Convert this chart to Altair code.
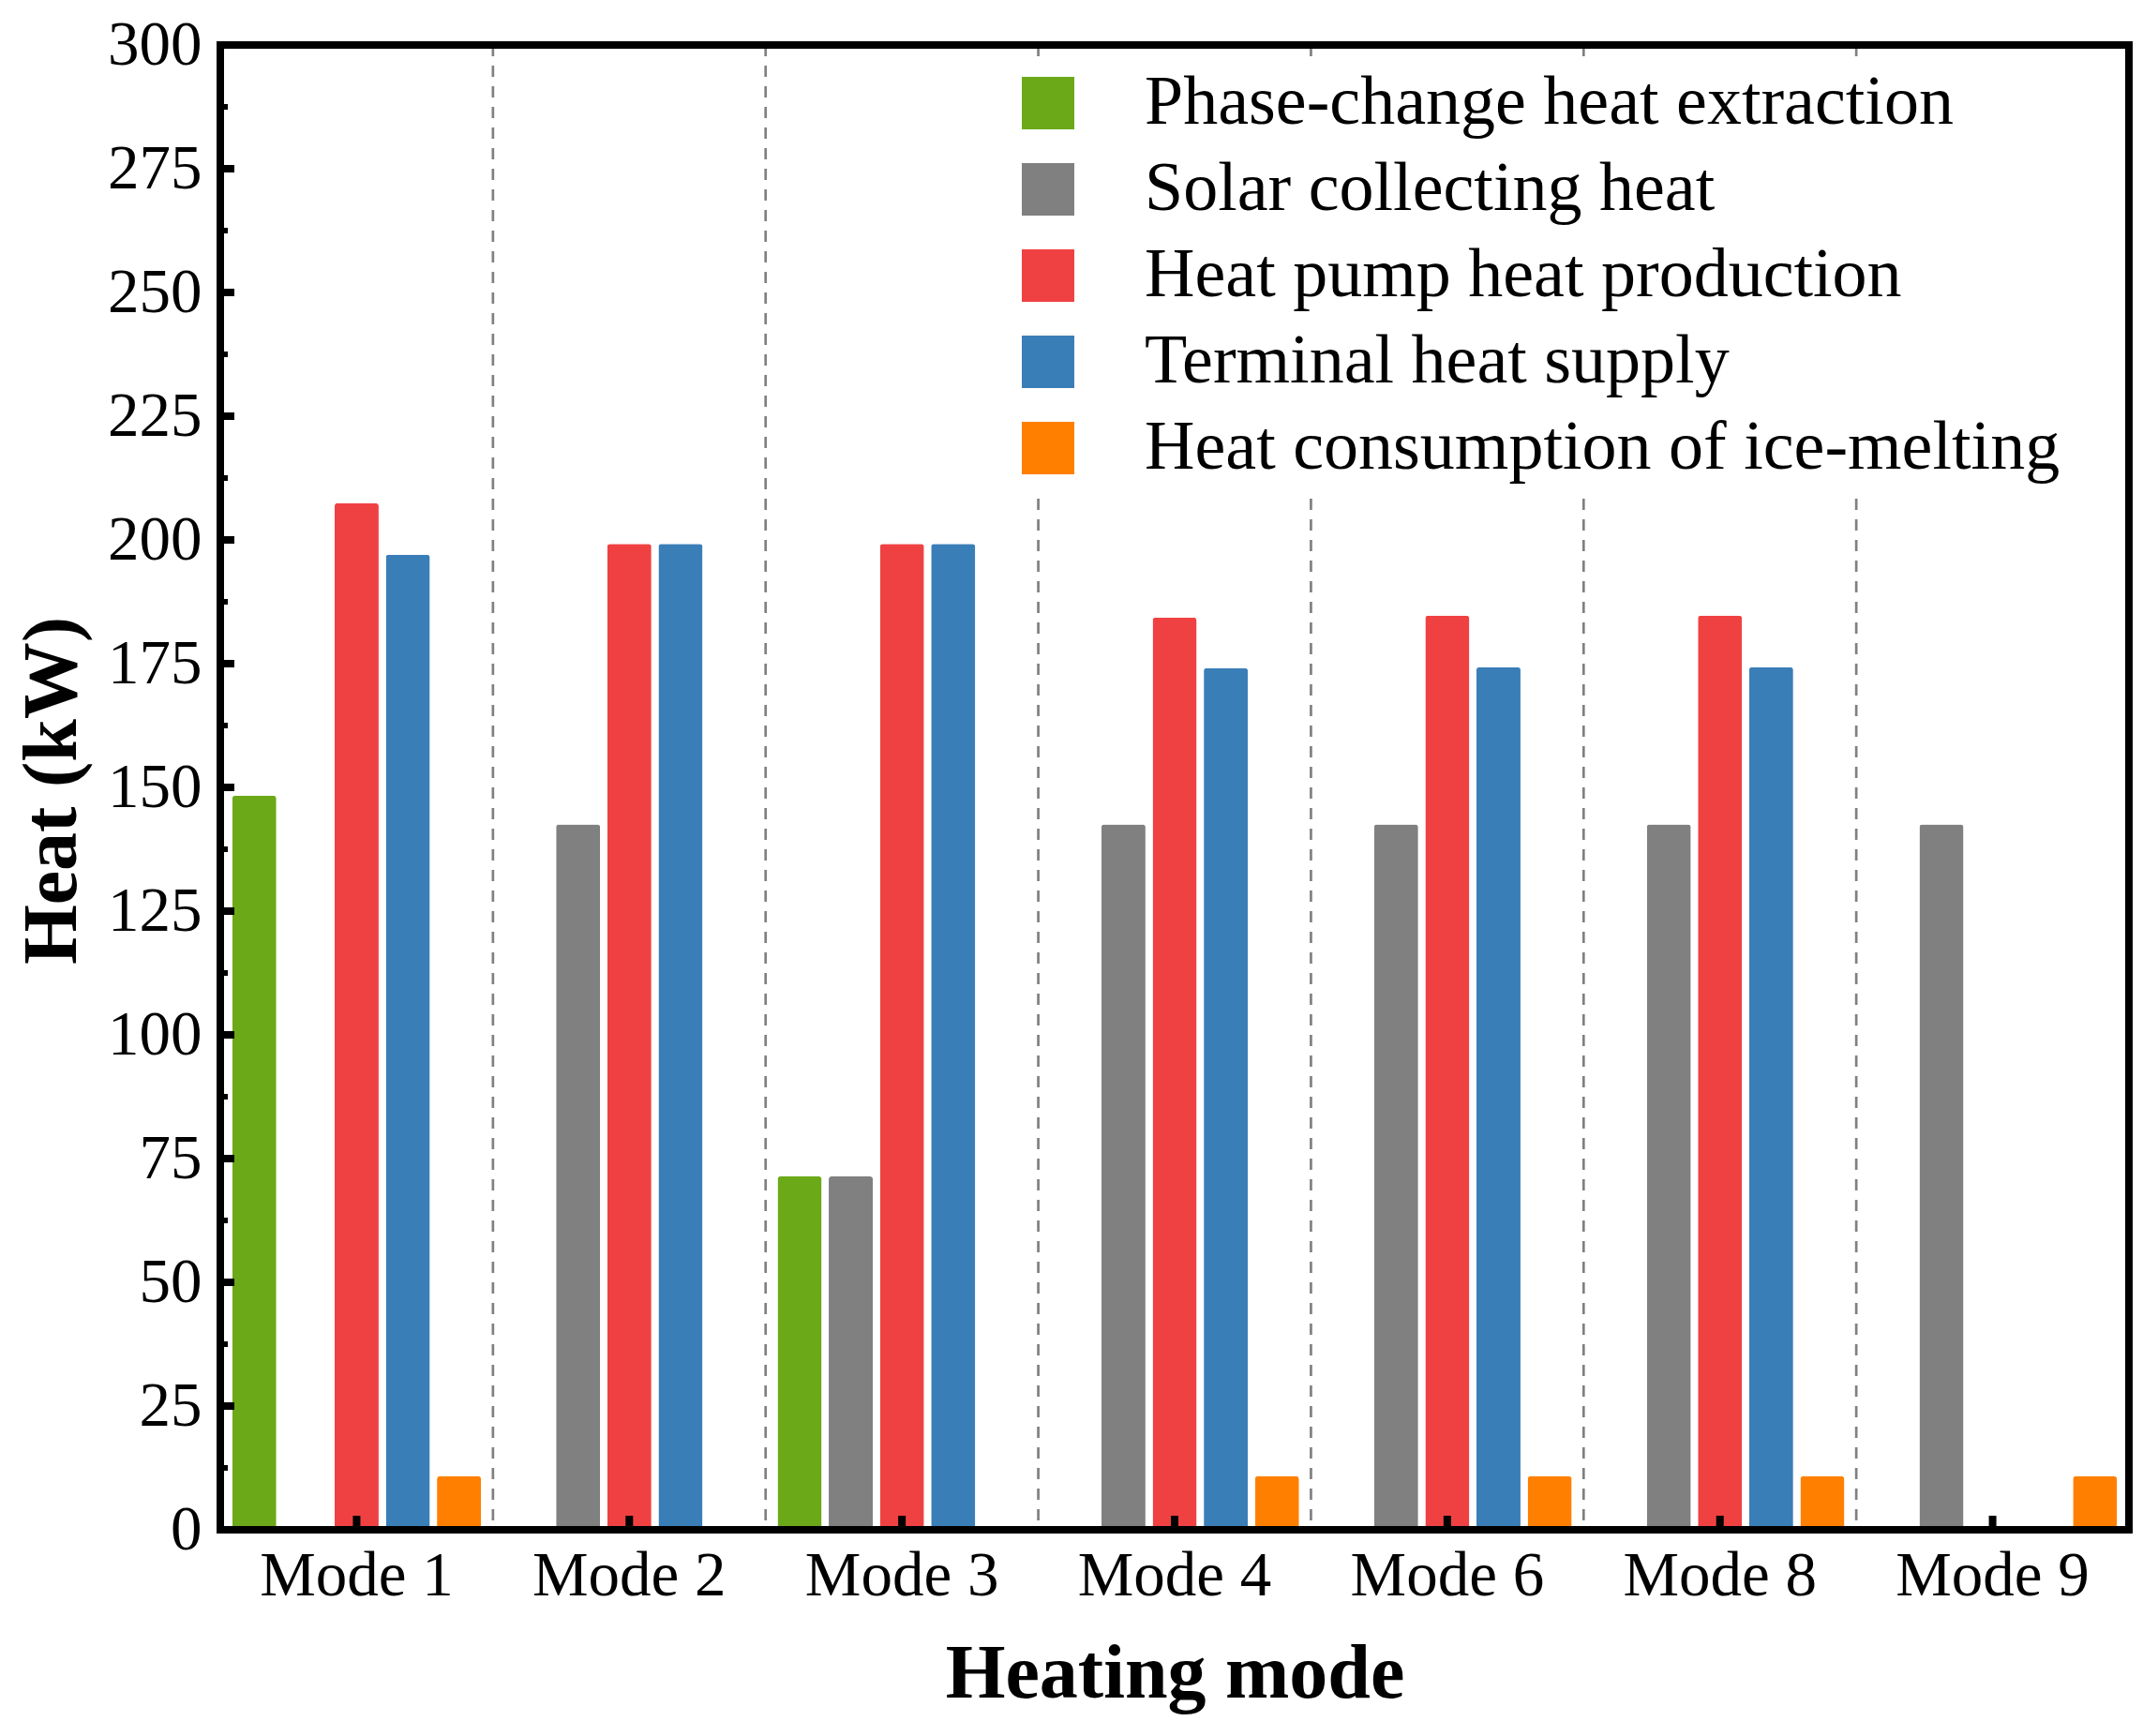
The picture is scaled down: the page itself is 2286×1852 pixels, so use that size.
import altair as alt
import pandas as pd

# ---- data ----
modes = ["Mode 1", "Mode 2", "Mode 3", "Mode 4", "Mode 6", "Mode 8", "Mode 9"]
series = [
    "Phase-change heat extraction",
    "Solar collecting heat",
    "Heat pump heat production",
    "Terminal heat supply",
    "Heat consumption of ice-melting",
]
colors = ["#6BA918", "#808080", "#F04142", "#3A7EB8", "#FF8000"]

phase_change = [148.3, 0, 71.4, 0, 0, 0, 0]
solar = [0, 142.5, 71.4, 142.5, 142.5, 142.5, 142.5]
heat_pump = [207.4, 199.2, 199.2, 184.3, 184.7, 184.7, 0]
terminal = [197.0, 199.2, 199.2, 174.1, 174.3, 174.3, 0]
ice_melting = [10.8, 0, 0, 10.8, 10.8, 10.8, 10.8]

y_major = [0, 25, 50, 75, 100, 125, 150, 175, 200, 225, 250, 275, 300]
y_minor = [12.5, 37.5, 62.5, 87.5, 112.5, 137.5, 162.5, 187.5, 212.5, 237.5, 262.5, 287.5]

# ---- tables ----
values = [phase_change, solar, heat_pump, terminal, ice_melting]
rows = []
for s, vals in zip(series, values):
    for m, v in zip(modes, vals):
        rows.append({"Mode": m, "Series": s, "Heat": v})
bars_df = pd.DataFrame(rows)
bars_df = bars_df[bars_df["Heat"] > 0]

sep_df = pd.DataFrame({"Mode": modes[1:]})
mode_df = pd.DataFrame({"Mode": modes})
major_df = pd.DataFrame({"v": y_major})
minor_df = pd.DataFrame({"v": y_minor})
one_df = pd.DataFrame({"a": [0]})

W, H = 2036, 1584
FONT = "Liberation Serif"

xscale = alt.Scale(domain=modes, paddingInner=0, paddingOuter=0)
yscale = alt.Scale(domain=[0, 300], nice=False, zero=True)

xaxis = alt.Axis(
    title="Heating mode", labelAngle=0, labelFont=FONT, labelFontSize=67,
    labelColor="black", labelPadding=16, labelLimit=1000, ticks=False,
    tickSize=0, domain=False, grid=False, titleFont=FONT, titleFontSize=82,
    titleFontWeight="bold", titleColor="black", titleY=178,
    titleBaseline="alphabetic", titleLimit=2000,
)
yaxis = alt.Axis(
    title="Heat (kW)", values=y_major, format="d", labelFont=FONT,
    labelFontSize=67, labelColor="black", labelPadding=20, labelLimit=1000,
    ticks=False, tickSize=0, domain=False, grid=False, labelOverlap=False,
    titleFont=FONT, titleFontSize=82, titleFontWeight="bold",
    titleColor="black", titleX=-155, titleY=795, titleAngle=270,
    titleBaseline="alphabetic", titleLimit=2000,
)

sep = alt.Chart(sep_df).mark_rule(
    color="#808080", strokeWidth=2.7, strokeDash=[12, 10]
).encode(
    x=alt.X("Mode:N", bandPosition=0, scale=xscale, axis=xaxis),
    y=alt.value(0),
    y2=alt.value(H),
)

bars = alt.Chart(bars_df).mark_bar(
    cornerRadiusTopLeft=3, cornerRadiusTopRight=3
).encode(
    x=alt.X("Mode:N", scale=xscale, axis=xaxis, sort=modes),
    xOffset=alt.XOffset(
        "Series:N", sort=series,
        scale=alt.Scale(domain=series, paddingInner=0.139, paddingOuter=0.233),
    ),
    y=alt.Y("Heat:Q", scale=yscale, axis=yaxis),
    color=alt.Color(
        "Series:N",
        scale=alt.Scale(domain=series, range=colors),
        legend=alt.Legend(
            title=None, orient="none", legendX=834, legendY=13,
            fillColor="white", padding=12, symbolType="square",
            symbolSize=3136, symbolStrokeWidth=0, symbolOpacity=1,
            labelFont=FONT, labelFontSize=74, labelColor="black",
            labelOffset=66, labelLimit=3000, rowPadding=18,
        ),
    ),
)

major = alt.Chart(major_df).mark_rule(color="black", strokeWidth=8).encode(
    y=alt.Y("v:Q", scale=yscale, axis=yaxis),
    x=alt.value(0),
    x2=alt.value(15),
)
minor = alt.Chart(minor_df).mark_rule(color="black", strokeWidth=6).encode(
    y=alt.Y("v:Q", scale=yscale, axis=yaxis),
    x=alt.value(0),
    x2=alt.value(8),
)
xticks = alt.Chart(mode_df).mark_rule(color="black", strokeWidth=8).encode(
    x=alt.X("Mode:N", scale=xscale, axis=xaxis),
    y=alt.value(H - 15),
    y2=alt.value(H),
)
frame = alt.Chart(one_df).mark_rect(
    fillOpacity=0, stroke="black", strokeWidth=8
).encode(
    x=alt.value(0), x2=alt.value(W), y=alt.value(0), y2=alt.value(H)
)

chart = alt.layer(sep, bars, major, minor, xticks, frame).properties(
    width=W,
    height=H,
    autosize=alt.AutoSizeParams(type="none"),
    padding={"left": 227, "top": 40, "right": 7, "bottom": 200},
    background="white",
).configure_view(strokeWidth=0)

chart.save("out.html", embed_options={"renderer": "svg", "actions": False})
